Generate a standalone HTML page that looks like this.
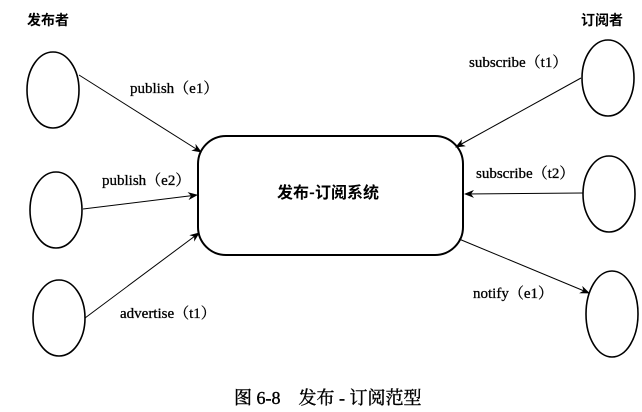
<!DOCTYPE html>
<html><head><meta charset="utf-8"><style>
html,body{margin:0;padding:0;background:#fff}
svg{display:block}
text{font-family:"Liberation Serif","Noto Serif CJK SC",serif;fill:#000}
</style></head><body>
<svg width="642" height="412" viewBox="0 0 642 412" xmlns="http://www.w3.org/2000/svg">
<defs><marker id="a" markerWidth="10" markerHeight="8" refX="9" refY="4" orient="auto" markerUnits="userSpaceOnUse"><path d="M0,0 L10,4 L0,8 L3,4 Z" fill="#000"/></marker></defs>
<g fill="none" stroke="#000" stroke-width="1.6">
<ellipse cx="53" cy="90" rx="26" ry="38"/>
<ellipse cx="56" cy="210" rx="26" ry="38"/>
<ellipse cx="59" cy="318" rx="26" ry="38"/>
<ellipse cx="608" cy="78" rx="26" ry="38"/>
<ellipse cx="609" cy="194" rx="26" ry="38"/>
<ellipse cx="612" cy="314" rx="26" ry="43"/>
<rect x="198" y="136" width="265" height="119" rx="28" ry="28" stroke-width="2"/>
</g>
<g stroke="#000" stroke-width="1" marker-end="url(#a)">
<line x1="79" y1="75" x2="201" y2="152"/>
<line x1="83" y1="209" x2="197" y2="195"/>
<line x1="85" y1="318" x2="199" y2="233"/>
<line x1="581" y1="78" x2="456" y2="147"/>
<line x1="583" y1="193" x2="465" y2="194"/>
<line x1="459" y1="239" x2="589" y2="293"/>
</g>
<g font-size="15" stroke="#000" stroke-width="0.3">
<text x="130" y="93">publish（e1）</text>
<text x="102" y="185">publish（e2）</text>
<text x="120" y="318">advertise（t1）</text>
<text x="469" y="67">subscribe（t1）</text>
<text x="476" y="178">subscribe（t2）</text>
<text x="473" y="298">notify（e1）</text>
</g>
<g font-weight="bold">
<text x="27" y="25" font-size="14" style="font-family:'Noto Sans CJK SC',sans-serif">发布者</text>
<text x="581" y="25" font-size="14" style="font-family:'Noto Sans CJK SC',sans-serif">订阅者</text>
<text x="328" y="198" font-size="16" text-anchor="middle" style="font-family:'Noto Sans CJK SC',sans-serif">发布-订阅系统</text>
</g>
<text x="234" y="404" font-size="18" stroke="#000" stroke-width="0.4" style="font-family:'Liberation Serif','Noto Serif CJK SC',serif">图 6-8　发布 - 订阅范型</text>
</svg>
</body></html>
